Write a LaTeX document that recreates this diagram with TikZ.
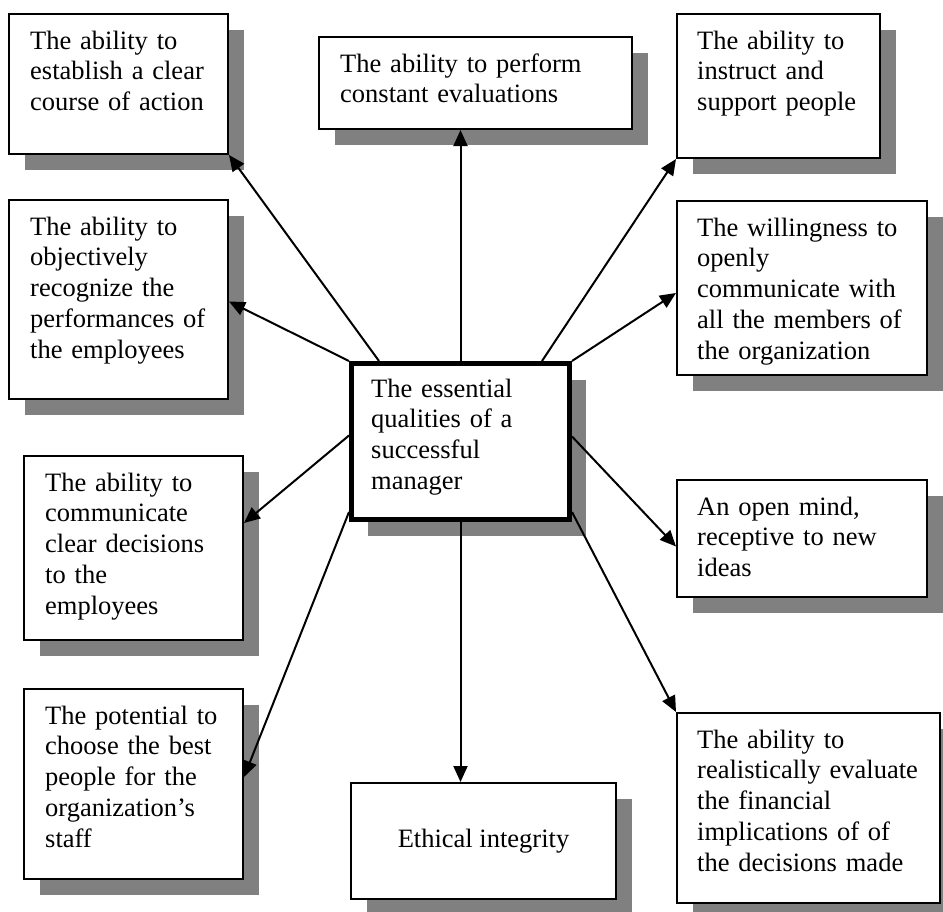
\documentclass[tikz,border=0pt]{standalone}
\usepackage{fontspec}
\setmainfont{Liberation Serif}
\usetikzlibrary{arrows.meta,shadows}
\definecolor{shadowgray}{HTML}{808080}
\begin{document}
\begin{tikzpicture}[x=1pt,y=1pt,
  box/.style={draw=black, line width=2pt, fill=white, rectangle, inner sep=0pt,
    drop shadow={shadow xshift=16pt, shadow yshift=-16pt, fill=shadowgray, opacity=1}},
  txt/.style={anchor=base west, inner sep=0pt, align=left, text width=320pt,
    font=\fontsize{26.5}{30.8}\selectfont},
  arr/.style={line width=2pt, -{Triangle[length=16pt,width=14pt]}}]
\useasboundingbox (0,0) rectangle (943,-911);
% boxes (centre, width, height)
\node[box, minimum width=219pt, minimum height=140pt] (b1) at (118.5,-84) {};
\node[box, minimum width=313pt, minimum height=92pt] (b2) at (475.5,-83) {};
\node[box, minimum width=203pt, minimum height=144pt] (b3) at (778.5,-86) {};
\node[box, minimum width=219pt, minimum height=199pt] (b4) at (118.5,-299.5) {};
\node[box, minimum width=250pt, minimum height=174pt] (b5) at (802,-288) {};
\node[box, minimum width=219pt, minimum height=184pt] (b7) at (133.5,-548) {};
\node[box, minimum width=250pt, minimum height=117pt] (b8) at (802,-538.5) {};
\node[box, minimum width=219pt, minimum height=190pt] (b9) at (133.5,-784) {};
\node[box, minimum width=265pt, minimum height=116pt,
  font=\fontsize{26.5}{30.8}\selectfont] (b10) at (483.5,-841) {Ethical integrity};
\node[box, minimum width=263pt, minimum height=190pt] (b11) at (808.5,-808) {};
\node[box, line width=5pt, minimum width=218pt, minimum height=156pt] (c) at (460.5,-441.5) {};
% texts
\node[txt] (t1) at ([xshift=22pt,yshift=-36pt]b1.north west) {The ability to\\establish a clear\\course of action};
\node[txt] (t2) at ([xshift=22pt,yshift=-36pt]b2.north west) {The ability to perform\\constant evaluations};
\node[txt] (t3) at ([xshift=21pt,yshift=-36pt]b3.north west) {The ability to\\instruct and\\support people};
\node[txt] (t4) at ([xshift=22pt,yshift=-36pt]b4.north west) {The ability to\\objectively\\recognize the\\performances of\\the employees};
\node[txt] (t5) at ([xshift=21pt,yshift=-36pt]b5.north west) {The willingness to\\openly\\communicate with\\all the members of\\the organization};
\node[txt] (t7) at ([xshift=22pt,yshift=-36pt]b7.north west) {The ability to\\communicate\\clear decisions\\to the\\employees};
\node[txt] (t8) at ([xshift=21pt,yshift=-36pt]b8.north west) {An open mind,\\receptive to new\\ideas};
\node[txt] (t9) at ([xshift=22pt,yshift=-36pt]b9.north west) {The potential to\\choose the best\\people for the\\organization’s\\staff};
\node[txt] (t11) at ([xshift=21pt,yshift=-36pt]b11.north west) {The ability to\\realistically evaluate\\the financial\\implications of of\\the decisions made};
\node[txt] (tc) at ([xshift=22pt,yshift=-36pt]c.north west) {The essential\\qualities of a\\successful\\manager};
% connectors
\draw[arr] ([xshift=30pt]c.north west) -- (b1.south east);
\draw[arr] (c.north) -- (c.north |- b2.south);
\draw[arr] ([xshift=-30pt]c.north east) -- (b3.south west);
\draw[arr] (c.north west) -- ([yshift=-2pt]b4.east);
\draw[arr] (c.north east) -- ([yshift=-5pt]b5.west);
\draw[arr] ([yshift=6pt]c.west) -- ([yshift=25pt]b7.east);
\draw[arr] ([yshift=5pt]c.east) -- ([yshift=-8pt]b8.west);
\draw[arr] ([yshift=10pt]c.south west) -- ([yshift=7pt]b9.east);
\draw[arr] (c.south) -- (c.south |- b10.north);
\draw[arr] ([yshift=10pt]c.south east) -- (b11.north west);
\end{tikzpicture}
\end{document}
